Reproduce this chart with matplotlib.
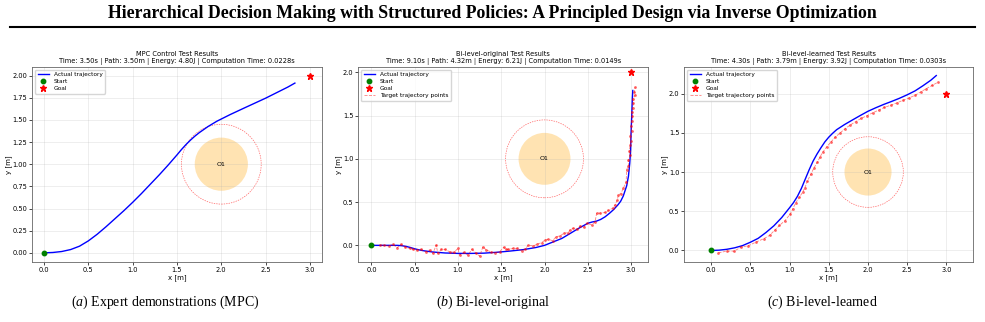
import numpy as np
import matplotlib.pyplot as plt
from matplotlib.patches import Circle

plt.rcParams['mathtext.fontset'] = 'custom'
plt.rcParams['mathtext.rm'] = 'Liberation Serif'
plt.rcParams['mathtext.it'] = 'Liberation Serif:italic'

# ---- (a) MPC expert trajectory
mpc_x = [0.0, 0.1, 0.2, 0.3, 0.4, 0.5, 0.6, 0.7, 0.8, 0.9, 1.0, 1.1, 1.2, 1.3, 1.4, 1.5,
         1.55, 1.6, 1.65, 1.7, 1.75, 1.8, 1.85, 1.9, 1.95, 2.0, 2.1, 2.25, 2.5, 2.75, 2.83]
mpc_y = [0.0, 0.004, 0.015, 0.037, 0.075, 0.135, 0.21, 0.295, 0.385, 0.475, 0.57, 0.67,
         0.775, 0.88, 0.99, 1.105, 1.165, 1.22, 1.27, 1.315, 1.355, 1.39, 1.425, 1.455,
         1.485, 1.51, 1.56, 1.63, 1.745, 1.87, 1.915]

# ---- (b) Bi-level-original
orig_x = [0.0, 0.1, 0.2, 0.3, 0.35, 0.4, 0.45, 0.5, 0.55, 0.6, 0.7, 0.85, 1.0, 1.15, 1.3,
          1.45, 1.6, 1.75, 1.9, 2.0, 2.1, 2.2, 2.3, 2.4, 2.5, 2.55, 2.6, 2.65, 2.7, 2.75,
          2.8, 2.85, 2.88, 2.91, 2.93, 2.95, 2.97, 2.985, 2.995, 3.0, 3.008, 3.015, 3.02]
orig_y = [0.0, 0.0, 0.0, 0.0, -0.004, -0.012, -0.025, -0.04, -0.052, -0.062, -0.076,
          -0.088, -0.093, -0.093, -0.09, -0.08, -0.066, -0.05, -0.025, 0.0, 0.04, 0.08,
          0.14, 0.2, 0.255, 0.27, 0.28, 0.3, 0.33, 0.37, 0.415, 0.47, 0.51, 0.57, 0.63,
          0.69, 0.8, 0.95, 1.1, 1.3, 1.5, 1.7, 1.79]
orig_tx = [0.104, 0.150, 0.200, 0.247, 0.297, 0.343, 0.393, 0.440, 0.478, 0.528, 0.575,
           0.625, 0.671, 0.710, 0.748, 0.767, 0.806, 0.852, 0.902, 0.953, 0.999, 1.018,
           1.068, 1.115, 1.161, 1.211, 1.250, 1.288, 1.327, 1.377, 1.423, 1.481, 1.527,
           1.558, 1.580, 1.640, 1.685, 1.735, 1.774, 1.813, 1.870, 1.917, 1.967, 2.005,
           2.044, 2.094, 2.133, 2.179, 2.225, 2.275, 2.295, 2.333, 2.380, 2.410, 2.457,
           2.487, 2.545, 2.584, 2.603, 2.642, 2.700, 2.738, 2.788, 2.815, 2.842, 2.854,
           2.881, 2.912, 2.943, 2.950, 2.970, 2.970, 2.989, 2.981, 2.989, 2.997, 2.989,
           3.008, 3.000, 3.008, 3.016, 3.008, 3.020, 3.027, 3.020, 3.047, 3.039, 3.047]
orig_ty = [0.004, 0.0, -0.008, 0.012, -0.027, 0.012, -0.023, -0.035, -0.047, -0.054, -0.047,
           -0.074, -0.054, -0.093, 0.004, -0.093, -0.047, -0.047, -0.074, -0.081, -0.035,
           -0.112, -0.081, -0.112, -0.047, -0.093, -0.124, -0.016, -0.054, -0.074, -0.085,
           -0.074, -0.023, -0.047, -0.047, -0.035, -0.035, -0.062, -0.047, 0.004, -0.008,
           0.016, 0.031, 0.062, 0.070, 0.054, 0.100, 0.109, 0.140, 0.147, 0.178, 0.198,
           0.186, 0.225, 0.209, 0.256, 0.236, 0.275, 0.372, 0.372, 0.380, 0.403, 0.430,
           0.469, 0.527, 0.585, 0.597, 0.663, 0.729, 0.876, 0.922, 0.984, 1.039, 1.089,
           1.155, 1.205, 1.264, 1.322, 1.380, 1.438, 1.496, 1.543, 1.593, 1.643, 1.690,
           1.736, 1.775, 1.826]

# ---- (c) Bi-level-learned
lrn_x = [0.0, 0.1, 0.2, 0.3, 0.4, 0.5, 0.6, 0.7, 0.8, 0.9, 1.0, 1.05, 1.1, 1.15, 1.2,
         1.25, 1.3, 1.35, 1.4, 1.45, 1.5, 1.55, 1.6, 1.7, 1.8, 1.9, 2.0, 2.1, 2.2, 2.3,
         2.4, 2.5, 2.6, 2.7, 2.8, 2.87]
lrn_y = [0.0, 0.004, 0.015, 0.034, 0.062, 0.105, 0.155, 0.23, 0.315, 0.42, 0.545, 0.61,
         0.69, 0.79, 0.91, 1.03, 1.14, 1.23, 1.31, 1.385, 1.445, 1.495, 1.54, 1.605, 1.663,
         1.72, 1.775, 1.82, 1.862, 1.90, 1.94, 1.985, 2.035, 2.10, 2.17, 2.23]
lrn_tx = [0.093, 0.198, 0.294, 0.387, 0.471, 0.576, 0.673, 0.745, 0.808, 0.871, 0.942,
          1.010, 1.040, 1.080, 1.123, 1.165, 1.195, 1.228, 1.270, 1.312, 1.355, 1.388,
          1.422, 1.472, 1.523, 1.578, 1.641, 1.704, 1.775, 1.843, 1.914, 1.986, 2.061,
          2.137, 2.209, 2.293, 2.369, 2.448, 2.524, 2.600, 2.671, 2.743, 2.819, 2.894]
lrn_ty = [-0.03, -0.008, -0.008, 0.046, 0.059, 0.109, 0.151, 0.193, 0.256, 0.319, 0.382,
          0.466, 0.530, 0.610, 0.676, 0.740, 0.800, 0.887, 0.970, 1.055, 1.126, 1.193,
          1.252, 1.320, 1.378, 1.441, 1.496, 1.550, 1.601, 1.643, 1.685, 1.718, 1.756,
          1.790, 1.824, 1.853, 1.882, 1.916, 1.945, 1.979, 2.021, 2.063, 2.105, 2.147]

titles = ["MPC Control Test Results", "Bi-level-original Test Results", "Bi-level-learned Test Results"]
stats = ["Time: 3.50s | Path: 3.50m | Energy: 4.80J | Computation Time: 0.0228s",
         "Time: 9.10s | Path: 4.32m | Energy: 6.21J | Computation Time: 0.0149s",
         "Time: 4.30s | Path: 3.79m | Energy: 3.92J | Computation Time: 0.0303s"]
captions = [r"$\mathit{(a)}$ Expert demonstrations (MPC)",
            r"$\mathit{(b)}$ Bi-level-original",
            r"$\mathit{(c)}$ Bi-level-learned"]
start = (0.0, 0.0)
goal = (3.0, 2.0)
obstacle = (2.0, 1.0)
obs_r = 0.3
safe_r = 0.45

fig = plt.figure(figsize=(9.85, 3.22), dpi=100)

fig.text(0.5, 1 - 13 / 322, "Hierarchical Decision Making with Structured Policies: A Principled Design via Inverse Optimization",
         ha='center', va='center', fontsize=12.8, fontweight='bold', family='Liberation Serif')
fig.add_artist(plt.Line2D([10 / 985, 975 / 985], [1 - 27 / 322, 1 - 27 / 322], color='black', lw=1.5))

lefts = [32.3, 358.3, 684.3]
widths = [289.4, 290.0, 289.0]
trajs = [(mpc_x, mpc_y, None, None), (orig_x, orig_y, orig_tx, orig_ty), (lrn_x, lrn_y, lrn_tx, lrn_ty)]
capx = [165, 493, 822]

for i in range(3):
    ax = fig.add_axes([lefts[i] / 985, 1 - 261.7 / 322, widths[i] / 985, 195 / 322])
    x, y, tx, ty = trajs[i]
    ax.plot(x, y, color='blue', lw=1.0, label='Actual trajectory')
    ax.plot(*start, 'o', color='green', ms=3.2, label='Start', zorder=5)
    ax.plot(*goal, '*', color='red', ms=4.8, label='Goal', zorder=5)
    if tx is not None:
        ax.plot(tx, ty, '--', color='red', lw=0.6, alpha=0.5, label='Target trajectory points')
        ax.plot(tx, ty, 'o', color='red', ms=2.0, alpha=0.6, mec='none')
    ax.add_patch(Circle(obstacle, obs_r, color='orange', alpha=0.3, lw=0))
    ax.add_patch(Circle(obstacle, safe_r, fill=False, ls=(0, (2, 1.5)), color='red', lw=0.5, alpha=0.6))
    ax.text(obstacle[0], obstacle[1], 'O1', ha='center', va='center', fontsize=4.5)
    ax.axis('equal')
    ax.grid(True, alpha=0.3, lw=0.5)
    ax.set_xticks(np.arange(0, 3.01, 0.5))
    if i == 0:
        ax.set_yticks(np.arange(0, 2.01, 0.25))
    else:
        ax.set_yticks(np.arange(0, 2.01, 0.5))
    ax.tick_params(labelsize=4.8, length=2, width=0.5, pad=1.5)
    ax.set_xlabel('x [m]', fontsize=5, labelpad=1)
    ax.set_ylabel('y [m]', fontsize=5, labelpad=0.5)
    ax.set_title(titles[i] + "\n" + stats[i], fontsize=4.75, pad=3, linespacing=1.15)
    for s in ax.spines.values():
        s.set_linewidth(0.6)
        s.set_color('#666666')
    ax.legend(loc='upper left', fontsize=4.2, handlelength=2.0, borderpad=0.4, labelspacing=0.35,
              framealpha=0.8, edgecolor='#cccccc')
    fig.text(capx[i] / 985, 1 - 302 / 322, captions[i], ha='center', va='center',
             fontsize=10, family='Liberation Serif')

fig.savefig('out.png', dpi=100)
